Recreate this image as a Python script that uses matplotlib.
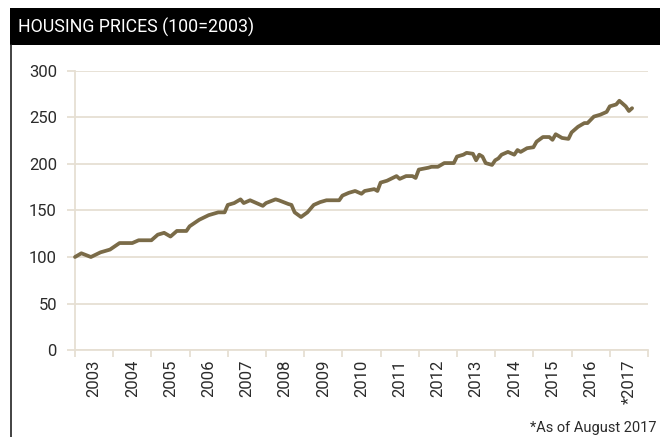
import matplotlib
matplotlib.use("Agg")
import matplotlib.pyplot as plt
from matplotlib.patches import Rectangle
from matplotlib.lines import Line2D

# Housing price index, 100 = 2003 (monthly readings, through August 2017)
dates = [
    "2003-01", "2003-03", "2003-06", "2003-09", "2003-12", "2004-03", "2004-07", "2004-09",
    "2005-01", "2005-03", "2005-05", "2005-07", "2005-09", "2005-12", "2006-01", "2006-04",
    "2006-07", "2006-10", "2006-12", "2007-01", "2007-03", "2007-05", "2007-06", "2007-08",
    "2007-10", "2007-12", "2008-01", "2008-04", "2008-05", "2008-08", "2008-09", "2008-10",
    "2008-12", "2009-02", "2009-04", "2009-06", "2009-08", "2009-12", "2010-01", "2010-03",
    "2010-05", "2010-07", "2010-08", "2010-11", "2010-12", "2011-01", "2011-03", "2011-06",
    "2011-07", "2011-09", "2011-11", "2011-12", "2012-01", "2012-04", "2012-05", "2012-07",
    "2012-09", "2012-12", "2013-01", "2013-03", "2013-04", "2013-06", "2013-07", "2013-08",
    "2013-09", "2013-10", "2013-12", "2014-01", "2014-02", "2014-03", "2014-05", "2014-07",
    "2014-08", "2014-09", "2014-11", "2015-01", "2015-02", "2015-04", "2015-06", "2015-07",
    "2015-08", "2015-10", "2015-12", "2016-01", "2016-03", "2016-05", "2016-06", "2016-08",
    "2016-10", "2016-12", "2017-01", "2017-03", "2017-04", "2017-06", "2017-07", "2017-08",
]
index_values = [
    100, 104, 100, 105, 108, 115, 115, 118,
    118, 124, 126, 122, 128, 128, 133, 140,
    145, 148, 148, 156, 158, 162, 158, 161,
    158, 155, 158, 162, 161, 157, 156, 148,
    143, 148, 156, 159, 161, 161, 166, 169,
    171, 168, 171, 173, 171, 180, 182, 187,
    184, 187, 187, 185, 194, 196, 197, 197,
    201, 201, 208, 210, 212, 211, 204, 210,
    208, 201, 199, 204, 206, 210, 213, 210,
    215, 213, 217, 218, 224, 229, 229, 226,
    232, 228, 227, 234, 240, 244, 244, 251,
    253, 256, 262, 264, 268, 262, 257, 260,
]
year_ticks = list(range(2003, 2019))
year_labels = ["2003", "2004", "2005", "2006", "2007", "2008", "2009", "2010",
               "2011", "2012", "2013", "2014", "2015", "2016", "*2017"]
y_ticks = [0, 50, 100, 150, 200, 250, 300]

title_text = "HOUSING PRICES (100=2003)"
footnote_text = "*As of August 2017"

LINE = "#7a6b48"
GRID = "#e6dfd3"
TEXT = "#2b2b2b"
FONT = "Roboto"

def to_decimal_year(s):
    y, m = s.split("-")
    return int(y) + (int(m) - 1) / 12.0

x = [to_decimal_year(d) for d in dates]

W, H = 660, 437
fig = plt.figure(figsize=(W / 100, H / 100), dpi=100)

# header band and left rule
fig.patches.append(Rectangle((10 / W, 1 - 45 / H), 650 / W, 37 / H,
                             transform=fig.transFigure, facecolor="black",
                             edgecolor="none", zorder=0))
fig.text(18 / W, 1 - 27 / H, title_text, color="white", fontsize=12.8,
         family=FONT, va="center", ha="left")
fig.lines.append(Line2D([11 / W, 11 / W], [0, 1 - 45 / H],
                        transform=fig.transFigure, color="#222222", lw=1.2))

ax = fig.add_axes([75 / W, 1 - 350 / H, (648 - 75) / W, (350 - 71) / H])
ax.plot(x, index_values, color=LINE, lw=2.7, solid_joinstyle="round",
        solid_capstyle="round", zorder=3, clip_on=False)

ax.set_xlim(2003, 2018)
ax.set_ylim(0, 300)

ax.set_yticks(y_ticks)
ax.set_yticklabels([str(v) for v in y_ticks])
ax.yaxis.grid(True, color=GRID, lw=1.3)
ax.set_axisbelow(True)

ax.set_xticks(year_ticks)
ax.set_xticklabels([])
ax.set_xticks([y + 0.5 for y in year_ticks[:-1]], minor=True)
ax.set_xticklabels(year_labels, minor=True, rotation=90)

ax.tick_params(axis="y", colors=GRID, labelcolor=TEXT, length=6, width=1.3,
               pad=7, labelsize=12)
ax.tick_params(axis="x", which="major", colors=GRID, length=5, width=1.3)
ax.tick_params(axis="x", which="minor", length=0, labelcolor=TEXT,
               labelsize=12, pad=7)
for lab in ax.get_xticklabels(minor=True) + ax.get_yticklabels():
    lab.set_family(FONT)

for side in ["top", "right"]:
    ax.spines[side].set_visible(False)
ax.spines["left"].set_color(GRID)
ax.spines["left"].set_linewidth(1.3)
ax.spines["bottom"].set_color(GRID)
ax.spines["bottom"].set_linewidth(1.3)

fig.text(657 / W, 1 - 428 / H, footnote_text, color=TEXT, fontsize=10.5,
         family=FONT, va="center", ha="right")

fig.savefig("out.png", dpi=100, facecolor="white")
